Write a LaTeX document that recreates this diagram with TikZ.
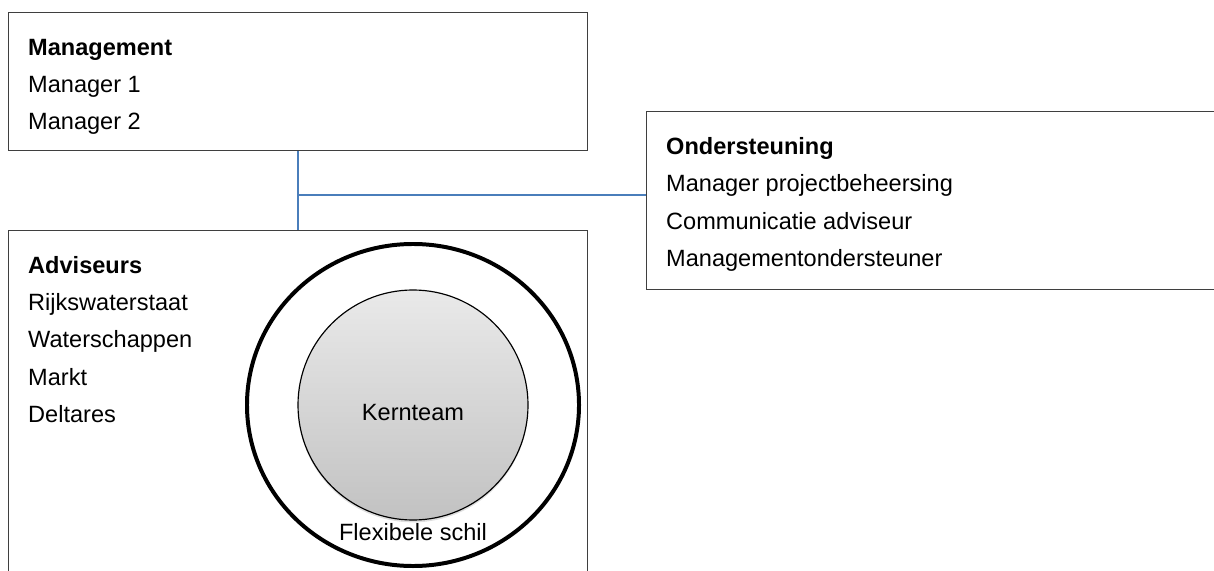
\documentclass[tikz,border=0pt]{standalone}
\usepackage{fontspec}
\setmainfont{Liberation Sans}
\usepackage{tikz}
\usetikzlibrary{positioning,shapes.geometric,shadows}
\usepackage{xcolor}
\definecolor{rand}{HTML}{3F3F3F}
\definecolor{blauw}{HTML}{4A7EBB}

\begin{document}
\begin{tikzpicture}[x=0.03cm, y=-0.03cm,
  font=\fontsize{20.1}{24}\selectfont,
  blok/.style={draw=rand, line width=1.2pt, anchor=north west, inner sep=0pt},
  kop/.style={anchor=base west, inner sep=0pt, font=\fontsize{20.1}{24}\selectfont\bfseries},
  regel/.style={anchor=base west, inner sep=0pt},
  lijn/.style={draw=blauw, line width=1.6pt},
  schil/.style={ellipse, draw=black, line width=3.4pt, minimum width=9.96cm, minimum height=9.66cm, inner sep=0pt},
  kern/.style={circle, draw=black, line width=1pt, minimum size=6.9cm, inner sep=0pt,
    top color=gray!17, bottom color=gray!48,
    drop shadow={shadow xshift=0pt, shadow yshift=-2pt, opacity=0.25}}]
  \useasboundingbox (0,0) rectangle (1214,571);
  \node[blok, minimum width=17.37cm, minimum height=4.14cm] (mgmt) at (8,12) {};
  \node[blok, minimum width=17.1cm, minimum height=5.34cm] (steun) at (646,111) {};
  \node[blok, minimum width=17.37cm, minimum height=10.5cm] (adv) at (8,230) {};
  \coordinate (knik) at (297.5,195);
  \draw[lijn] (mgmt.south) -- (adv.north);
  \draw[lijn] (knik) -- (knik -| steun.west);
  \node[kop] (mgmt0) at (28,56) {Management};
  \node[regel] (mgmt1) at (28,93) {Manager 1};
  \node[regel] (mgmt2) at (28,130) {Manager 2};
  \node[kop] (steun0) at (666,155) {Ondersteuning};
  \node[regel] (steun1) at (666,192) {Manager projectbeheersing};
  \node[regel] (steun2) at (666,229.5) {Communicatie adviseur};
  \node[regel] (steun3) at (666,267) {Managementondersteuner};
  \node[kop] (adv0) at (28,273.5) {Adviseurs};
  \foreach \naam [count=\i] in {Rijkswaterstaat,Waterschappen,Markt,Deltares}
    \node[regel] (adv\i) at (28,273.5+37.2*\i) {\naam};
  \node[schil] (flex) at (413,405) {};
  \node[kern] (kt) at (413,405) {};
  \node[anchor=base, inner sep=0pt] (ktlabel) at (413,420.5) {Kernteam};
  \node[anchor=base, inner sep=0pt] (flexlabel) at (413,540.5) {Flexibele schil};
\end{tikzpicture}
\end{document}
